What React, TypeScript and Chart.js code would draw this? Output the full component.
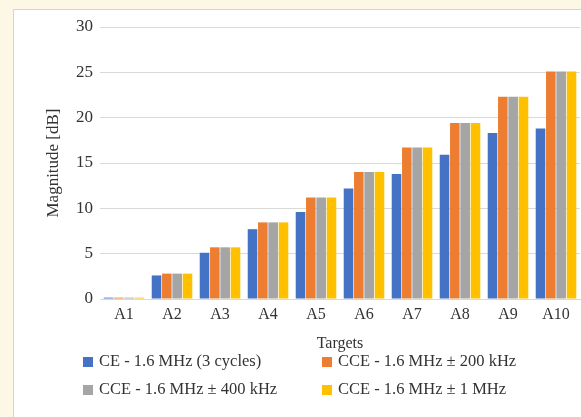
import React, { useEffect, useRef } from "react";
import { Chart, registerables } from "chart.js";

Chart.register(...registerables);

const categories = ["A1", "A2", "A3", "A4", "A5", "A6", "A7", "A8", "A9", "A10"];
const seriesNames = [
  "CE - 1.6 MHz (3 cycles)",
  "CCE - 1.6 MHz ± 200 kHz",
  "CCE - 1.6 MHz ± 400 kHz",
  "CCE - 1.6 MHz ± 1 MHz",
];
const ce3cycles = [0.15, 2.6, 5.1, 7.7, 9.6, 12.2, 13.8, 15.9, 18.3, 18.8];
const cce200k = [0.15, 2.8, 5.7, 8.45, 11.2, 14.0, 16.7, 19.4, 22.3, 25.1];
const cce400k = [0.15, 2.8, 5.7, 8.45, 11.2, 14.0, 16.7, 19.4, 22.3, 25.1];
const cce1M = [0.15, 2.8, 5.7, 8.45, 11.2, 14.0, 16.7, 19.4, 22.3, 25.1];
const seriesColors = ["#4472C4", "#ED7D31", "#A5A5A5", "#FFC000"];
const yTicks = [0, 5, 10, 15, 20, 25, 30];

const FONT = "'Liberation Serif', 'Times New Roman', serif";
const TEXT = "#333333";

const backgroundPlugin = {
  id: "panelBg",
  beforeDraw(chart: any) {
    const { ctx, width, height } = chart;
    ctx.save();
    ctx.fillStyle = "#fdf8e6";
    ctx.fillRect(0, 0, width, height);
    ctx.fillStyle = "#ffffff";
    ctx.fillRect(13, 9, width - 13, height - 9);
    ctx.strokeStyle = "#d4d4d4";
    ctx.lineWidth = 1;
    ctx.beginPath();
    ctx.moveTo(13.5, height);
    ctx.lineTo(13.5, 9.5);
    ctx.lineTo(width, 9.5);
    ctx.stroke();
    ctx.restore();
  },
};

const legendPlugin = {
  id: "gridLegend",
  afterDraw(chart: any) {
    const { ctx } = chart;
    const datasets = chart.data.datasets;
    const colX = [83, 322];
    const rowY = [362, 390];
    ctx.save();
    ctx.font = `16.5px ${FONT}`;
    ctx.textBaseline = "middle";
    ctx.textAlign = "left";
    datasets.forEach((ds: any, i: number) => {
      const col = i % 2;
      const row = Math.floor(i / 2);
      const x = colX[col];
      const y = rowY[row];
      ctx.fillStyle = ds.backgroundColor;
      ctx.fillRect(x, y - 5, 10, 10);
      ctx.fillStyle = TEXT;
      ctx.fillText(ds.label, x + 16, y);
    });
    ctx.restore();
  },
};

export default function App() {
  const ref = useRef<HTMLCanvasElement | null>(null);
  useEffect(() => {
    if (!ref.current) return;
    const values = [ce3cycles, cce200k, cce400k, cce1M];
    const chart = new Chart(ref.current, {
      type: "bar",
      data: {
        labels: categories,
        datasets: values.map((v, i) => ({
          label: seriesNames[i],
          data: v,
          backgroundColor: seriesColors[i],
          borderWidth: 0,
          categoryPercentage: 0.86,
          barPercentage: 0.93,
        })),
      },
      options: {
        responsive: false,
        animation: false,
        layout: { padding: { left: 0, top: 27, right: 1, bottom: 60 } },
        plugins: {
          legend: { display: false },
          tooltip: { enabled: false },
        },
        scales: {
          x: {
            grid: { display: false, drawTicks: false },
            border: { display: true, color: "#d9d9d9" },
            ticks: {
              color: TEXT,
              padding: 6,
              font: { family: FONT, size: 16 },
              maxRotation: 0,
            },
            title: {
              display: true,
              text: "Targets",
              color: TEXT,
              font: { family: FONT, size: 16 },
              padding: { top: 0, bottom: 4 },
            },
            afterFit(scale: any) {
              scale.height = 58;
            },
          },
          y: {
            min: 0,
            max: 30,
            afterBuildTicks(scale: any) {
              scale.ticks = yTicks.map((v) => ({ value: v }));
            },
            grid: { color: "#d9d9d9", drawTicks: false },
            border: { display: false },
            ticks: {
              color: TEXT,
              padding: 7,
              font: { family: FONT, size: 17 },
            },
            title: {
              display: true,
              text: "Magnitude [dB]",
              color: TEXT,
              font: { family: FONT, size: 17 },
              padding: { top: 43, bottom: 0 },
            },
            afterFit(scale: any) {
              scale.width = 100;
            },
          },
        },
      },
      plugins: [backgroundPlugin, legendPlugin],
    });
    return () => chart.destroy();
  }, []);
  return (
    <div style={{ position: "fixed", left: 0, top: 0, width: 581, height: 417 }}>
      <canvas ref={ref} width={581} height={417} />
    </div>
  );
}
